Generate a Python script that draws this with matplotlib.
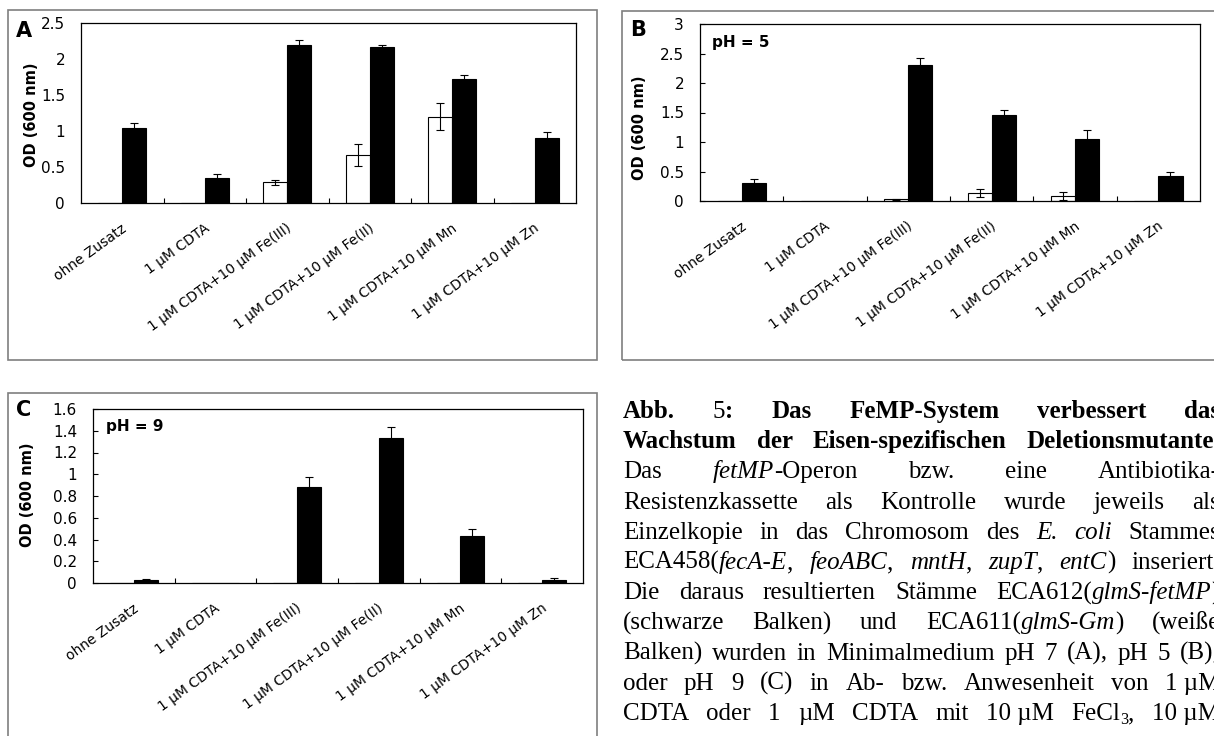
import numpy as np
import matplotlib
matplotlib.use("Agg")
import matplotlib.pyplot as plt
from matplotlib.patches import Rectangle
from matplotlib import transforms

# Kategorien (gleich fuer alle drei Panels)
cats = ["ohne Zusatz", "1 µM CDTA", "1 µM CDTA+10 µM Fe(III)",
        "1 µM CDTA+10 µM Fe(II)", "1 µM CDTA+10 µM Mn", "1 µM CDTA+10 µM Zn"]

# A: pH 7
A_black = [1.04, 0.35, 2.20, 2.17, 1.72, 0.90]
A_black_err = [0.07, 0.05, 0.06, 0.03, 0.06, 0.09]
A_white = [0, 0, 0.29, 0.67, 1.20, 0]
A_white_err = [0, 0, 0.035, 0.15, 0.19, 0]

# B: pH 5
B_black = [0.31, 0, 2.30, 1.46, 1.05, 0.43]
B_black_err = [0.06, 0, 0.13, 0.09, 0.16, 0.07]
B_white = [0, 0, 0.03, 0.135, 0.085, 0]
B_white_err = [0, 0, 0.01, 0.065, 0.065, 0]

# C: pH 9
C_black = [0.03, 0, 0.88, 1.33, 0.43, 0.025]
C_black_err = [0.01, 0, 0.095, 0.10, 0.065, 0.02]
C_white = [0, 0, 0, 0, 0, 0]
C_white_err = [0, 0, 0, 0, 0, 0]

W, H = 1214, 736
fig = plt.figure(figsize=(W / 100, H / 100), dpi=100)


def fx(px):
    return px / W


def fy(py):
    return 1 - py / H


def panel(box, frame, letter, letter_xy, ylab_xy, black, black_err, white, white_err,
          ymax, ystep, yticks_on, ph=None, ph_xy=None):
    l, t, r, b = box
    ax = fig.add_axes([fx(l), fy(b), fx(r) - fx(l), fy(t) - fy(b)])
    x = np.arange(len(cats))
    w = 0.29
    ax.bar(x - w / 2, white, w, color="white", edgecolor="black", linewidth=0.8, zorder=2)
    ax.bar(x + w / 2, black, w, color="black", edgecolor="black", linewidth=0.8, zorder=2)
    for xs, v, e in ((x - w / 2, white, white_err), (x + w / 2, black, black_err)):
        m = np.array(e) > 0
        if m.any():
            ax.errorbar(xs[m], np.array(v)[m], yerr=np.array(e)[m], fmt="none",
                        ecolor="black", elinewidth=0.8, capsize=2.8, capthick=0.8, zorder=3)
    ax.set_xlim(-0.5, len(cats) - 0.5)
    ax.set_ylim(0, ymax)
    ticks = np.arange(0, ymax + ystep / 2, ystep)
    ax.set_yticks(ticks)
    ax.set_yticklabels(["%g" % round(v, 2) for v in ticks])
    ax.set_xticks([])
    ax.set_xticks(np.arange(0.5, len(cats) - 0.5), minor=True)
    ax.tick_params(axis="x", which="minor", direction="in", length=3.5, width=0.8)
    ax.tick_params(axis="y", direction="in", length=3.5 if yticks_on else 0,
                   width=0.8, pad=11.5, labelsize=11)
    for s in ax.spines.values():
        s.set_linewidth(0.9)
    trans = transforms.offset_copy(ax.get_xaxis_transform(), fig=fig, x=3, y=-24, units="dots")
    for i, c in enumerate(cats):
        ax.text(i, 0, c, transform=trans, rotation=36, ha="right", va="center",
                rotation_mode="anchor", fontsize=10)
    fig.text(fx(ylab_xy[0]), fy(ylab_xy[1]), "OD (600 nm)", rotation=90,
             ha="center", va="center", fontweight="bold", fontsize=10.5)
    fig.text(fx(letter_xy[0]), fy(letter_xy[1]), letter, ha="center", va="center",
             fontweight="bold", fontsize=15)
    if ph:
        fig.text(fx(ph_xy[0]), fy(ph_xy[1]), ph, ha="left", va="center",
                 fontweight="bold", fontsize=11)
    fl, ft, fr, fb = frame
    fig.add_artist(Rectangle((fx(fl), fy(fb)), fx(fr) - fx(fl), fy(ft) - fy(fb),
                             transform=fig.transFigure, fill=False,
                             edgecolor="#7f7f7f", linewidth=1.2, clip_on=False))
    return ax


panel((81, 23, 576, 203), (8, 10, 597, 360), "A", (24, 31), (32, 115),
      A_black, A_black_err, A_white, A_white_err, 2.5, 0.5, False)
panel((700, 24, 1200, 201), (622, 11, 1218, 360), "B", (638, 30), (640, 128),
      B_black, B_black_err, B_white, B_white_err, 3.0, 0.5, True, "pH = 5", (712, 42))
panel((93, 409, 583, 583), (8, 393, 597, 745), "C", (24, 410), (28, 495),
      C_black, C_black_err, C_white, C_white_err, 1.6, 0.2, True, "pH = 9", (106, 426))

# Bildunterschrift (Blocksatz)
caption = [
    ("b", ["Abb.", [("5", "r"), (":", "b")], "Das", "FeMP-System", "verbessert", "das"]),
    ("b", ["Wachstum", "der", "Eisen-spezifischen", "Deletionsmutante."]),
    ("r", ["Das", [("fetMP", "i"), ("-Operon", "r")], "bzw.", "eine", "Antibiotika-"]),
    ("r", ["Resistenzkassette", "als", "Kontrolle", "wurde", "jeweils", "als"]),
    ("r", ["Einzelkopie", "in", "das", "Chromosom", "des", [("E.", "i")], [("coli", "i")], "Stammes"]),
    ("r", [[("ECA458(", "r"), ("fecA-E", "i"), (",", "r")], [("feoABC", "i"), (",", "r")],
           [("mntH", "i"), (",", "r")], [("zupT", "i"), (",", "r")],
           [("entC", "i"), (")", "r")], "inseriert."]),
    ("r", ["Die", "daraus", "resultierten", "Stämme", [("ECA612(", "r"), ("glmS-fetMP", "i"), (")", "r")]]),
    ("r", ["(schwarze", "Balken)", "und", [("ECA611(", "r"), ("glmS-Gm", "i"), (")", "r")], "(weiße"]),
    ("r", ["Balken)", "wurden", "in", "Minimalmedium", "pH", "7", "(A),", "pH", "5", "(B),"]),
    ("r", ["oder", "pH", "9", "(C)", "in", "Ab-", "bzw.", "Anwesenheit", "von", "1 µM"]),
    ("r", ["CDTA", "oder", "1", "µM", "CDTA", "mit", "10 µM", [("FeCl", "r"), ("3", "sub"), (",", "r")], "10 µM"]),
]

cap_left, cap_right = 623, 1220
base0, line_step = 418, 30.2
cap_size = 18

fig.canvas.draw()
rend = fig.canvas.get_renderer()

for k, (dstyle, words) in enumerate(caption):
    yb = base0 + k * line_step
    placed = []
    for wd in words:
        segs = [(wd, dstyle)] if isinstance(wd, str) else wd
        items = []
        for s, st in segs:
            kw = dict(family="Liberation Serif", fontsize=cap_size, va="baseline", ha="left")
            dy = 0
            if st == "b":
                kw["fontweight"] = "bold"
            elif st == "i":
                kw["fontstyle"] = "italic"
            elif st == "sub":
                kw["fontsize"] = cap_size * 0.65
                dy = 4
            t = fig.text(0, fy(yb + dy), s, **kw)
            items.append((t, t.get_window_extent(rend).width, dy))
        placed.append(items)
    total = sum(wd for items in placed for _, wd, _ in items)
    gap = (cap_right - cap_left - total) / max(len(placed) - 1, 1)
    gap = max(gap, 4)
    xc = cap_left
    for items in placed:
        for t, wd, dy in items:
            t.set_position((fx(xc), fy(yb + dy)))
            xc += wd
        xc += gap

fig.savefig("out.png", dpi=100)
